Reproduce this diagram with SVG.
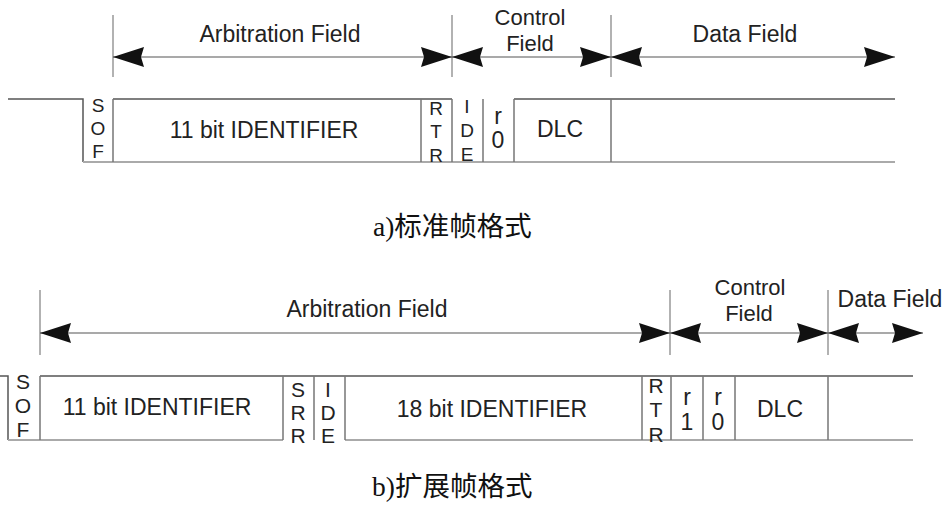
<svg xmlns="http://www.w3.org/2000/svg" width="948" height="505" viewBox="0 0 948 505">
<defs>
<marker id="ah" markerUnits="userSpaceOnUse" markerWidth="31" markerHeight="20" viewBox="0 0 31 20" refX="31" refY="10" orient="auto-start-reverse">
<path d="M0,0 L31,10 L0,20 L3,10 z" fill="#111"/>
</marker>
</defs>
<style>
.lbl{font-family:"Liberation Sans",Arial,sans-serif;font-size:23px;fill:#222;text-anchor:middle}
.sm{font-size:22px}
.vl{font-family:"Liberation Sans",Arial,sans-serif;font-size:19px;fill:#222;text-anchor:middle}
.vl2{font-family:"Liberation Sans",Arial,sans-serif;font-size:21px;fill:#222;text-anchor:middle}
.cap{font-family:"Liberation Serif","Noto Sans CJK SC",serif;font-size:27.5px;fill:#111}
.frame{fill:none;stroke:#555;stroke-width:1.5}
.base{fill:none;stroke:#aaa;stroke-width:2}
.cell{fill:none;stroke:#777;stroke-width:1.5}
.tick{fill:none;stroke:#999;stroke-width:1.5}
.arr{fill:none;stroke:#555;stroke-width:1.2;marker-start:url(#ah);marker-end:url(#ah)}
</style>

<g id="standard-frame">
<path class="frame" d="M8,99 H83 V162"/>
<path class="base" d="M83,162 H895"/>
<path class="frame" d="M113,99 H452"/>
<path class="frame" d="M514,99 H895"/>
<path class="cell" d="M113,99 V162 M421,99 V162 M452,99 V162 M483,99 V162 M514,99 V162 M611,99 V162"/>
</g>
<g id="std-sof"><text class="vl" x="98" y="112">S</text><text class="vl" x="98" y="135">O</text><text class="vl" x="98" y="158">F</text></g>
<g id="std-id"><text class="lbl" x="264" y="138">11 bit IDENTIFIER</text></g>
<g id="std-rtr"><text class="vl" x="436" y="115">R</text><text class="vl" x="436" y="138">T</text><text class="vl" x="436" y="162">R</text></g>
<g id="std-ide"><text class="vl" x="467" y="113">I</text><text class="vl" x="467" y="137">D</text><text class="vl" x="467" y="161">E</text></g>
<g id="std-r0"><text class="lbl" x="498" y="124">r</text><text class="lbl" x="498" y="148">0</text></g>
<g id="std-dlc"><text class="lbl" x="560" y="137">DLC</text></g>

<g id="std-fields">
<path class="tick" d="M113,15 V77 M452,15 V77 M611,15 V77"/>
<text class="lbl" x="280" y="42">Arbitration Field</text>
<text class="lbl sm" x="530" y="25">Control</text>
<text class="lbl sm" x="530" y="51">Field</text>
<text class="lbl" x="745" y="42">Data Field</text>
</g>

<g id="ext-frame">
<path class="frame" d="M0,376 H8 V440"/>
<path class="base" d="M8,440 H283 M345,440 H913"/>
<path class="frame" d="M40,376 H913"/>
<path class="cell" d="M40,376 V440 M283,376 V440 M314,376 V440 M345,376 V440 M642,376 V440 M671,376 V440 M703,376 V440 M735,376 V440 M828,376 V440"/>
</g>
<g id="ext-sof"><text class="vl2" x="23" y="389">S</text><text class="vl2" x="23" y="413">O</text><text class="vl2" x="23" y="437">F</text></g>
<g id="ext-id11"><text class="lbl" x="157" y="415">11 bit IDENTIFIER</text></g>
<g id="ext-srr"><text class="vl2" x="298" y="397">S</text><text class="vl2" x="298" y="420">R</text><text class="vl2" x="298" y="443">R</text></g>
<g id="ext-ide"><text class="vl2" x="328" y="397">I</text><text class="vl2" x="328" y="420">D</text><text class="vl2" x="328" y="443">E</text></g>
<g id="ext-id18"><text class="lbl" x="492" y="417">18 bit IDENTIFIER</text></g>
<g id="ext-rtr"><text class="vl2" x="656" y="393">R</text><text class="vl2" x="656" y="417">T</text><text class="vl2" x="656" y="442">R</text></g>
<g id="ext-r1"><text class="lbl" x="687" y="405">r</text><text class="lbl" x="687" y="430">1</text></g>
<g id="ext-r0"><text class="lbl" x="718" y="405">r</text><text class="lbl" x="718" y="430">0</text></g>
<g id="ext-dlc"><text class="lbl" x="780" y="417">DLC</text></g>

<g id="ext-fields">
<path class="tick" d="M40,290 V355 M670,290 V355 M828,290 V355"/>
<text class="lbl" x="367" y="317">Arbitration Field</text>
<text class="lbl sm" x="750" y="295">Control</text>
<text class="lbl sm" x="749" y="321">Field</text>
<text class="lbl" x="890" y="307">Data Field</text>
</g>

<g id="connectors">
<line class="arr" x1="113" y1="57" x2="452" y2="57"/>
<line class="arr" x1="452" y1="57" x2="611" y2="57"/>
<line class="arr" x1="611" y1="57" x2="895" y2="57"/>
<line class="arr" x1="40" y1="333" x2="670" y2="333"/>
<line class="arr" x1="670" y1="333" x2="828" y2="333"/>
<line class="arr" x1="828" y1="333" x2="923" y2="333"/>
</g>

<g id="captions">
<text class="cap" x="373" y="236">a)标准帧格式</text>
<text class="cap" x="372" y="496">b)扩展帧格式</text>
</g>
</svg>
